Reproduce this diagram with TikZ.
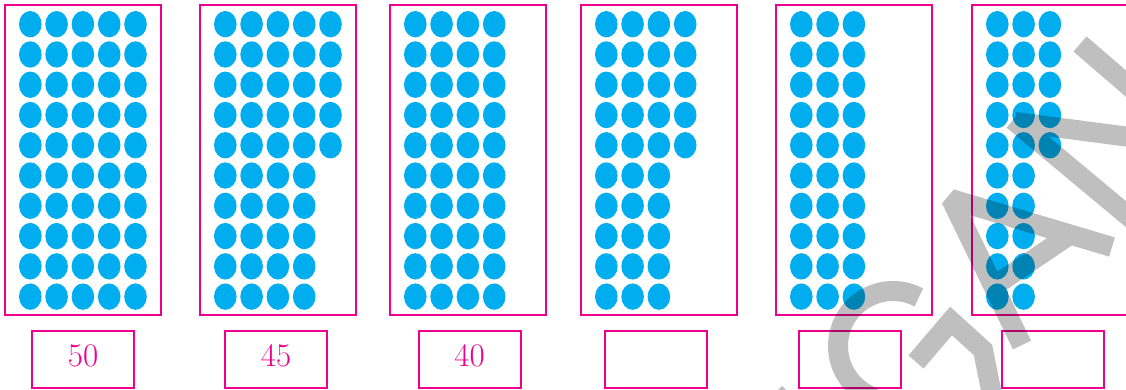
\documentclass[tikz,border=0pt]{standalone}
\usepackage{fontspec}
\usetikzlibrary{calc}
\definecolor{dotblue}{RGB}{0,174,239}
\definecolor{mag}{RGB}{236,0,140}
\begin{document}
\begin{tikzpicture}[x=1pt,y=-1pt,
  frame/.style={draw=mag, line width=2pt, minimum width=156pt, minimum height=310pt, inner sep=0pt, outer sep=0pt},
  lbl/.style={draw=mag, line width=2pt, minimum width=102pt, minimum height=57pt, inner sep=0pt, outer sep=0pt},
  num/.style={text=mag, font=\fontsize{33}{33}\selectfont, inner sep=0pt},
  dot/.style={fill=dotblue},
  wm/.style={draw=black, draw opacity=0.25, line width=20pt, line cap=butt}]
\useasboundingbox (0,0) rectangle (1126,390);
% frames
\node[frame] (f1) at (83,160) {};
\node[frame] (f2) at (278,160) {};
\node[frame] (f3) at (468,160) {};
\node[frame] (f4) at (659,160) {};
\node[frame] (f5) at (854,160) {};
\node[frame] (f6) at (1050,160) {};
% dots
\foreach \L/\a/\b in {5/5/5, 200/5/4, 390/4/4, 581/4/3, 776/3/3, 972/3/2} {
  \foreach \r in {0,...,9} {
    \pgfmathtruncatemacro\n{\r<5 ? \a : \b}
    \foreach \c in {1,...,\n} {
      \fill[dot] (\L+25.3+26.3*\c-26.3, 24.2+30.27*\r) ellipse [x radius=11.3, y radius=13.2];
    }
  }
}
% answer boxes
\node[lbl] (l1) at (83,359.5) {};
\node[lbl] (l2) at (276,359.5) {};
\node[lbl] (l3) at (469.5,359.5) {};
\node[lbl] (l4) at (655.5,359.5) {};
\node[lbl] (l5) at (850,359.5) {};
\node[lbl] (l6) at (1053,359.5) {};
\node[num] (n1) at (83,356) {50};
\node[num] (n2) at (276,356) {45};
\node[num] (n3) at (469.5,356) {40};
% watermark
\begin{scope}
\clip (0,0) rectangle (1126,390);
\draw[wm] (893,346) ++(-62:55) arc[start angle=-62, end angle=-250, radius=55];
\draw[wm, line join=miter] (916,362) -- (951,321) -- (983,350) -- (993,400);
\draw[wm, line join=bevel] (1022,345) -- (951,199) -- (1112,247) (994,286) -- (1068,236);
\draw[wm] (1013,120) -- (1145,230) (1015,122) -- (1145,139) (1080,44) -- (1145,100);
\fill[black, fill opacity=0.25] (777,391) -- (782,386) -- (787,391) -- cycle;
\end{scope}
\end{tikzpicture}
\end{document}
